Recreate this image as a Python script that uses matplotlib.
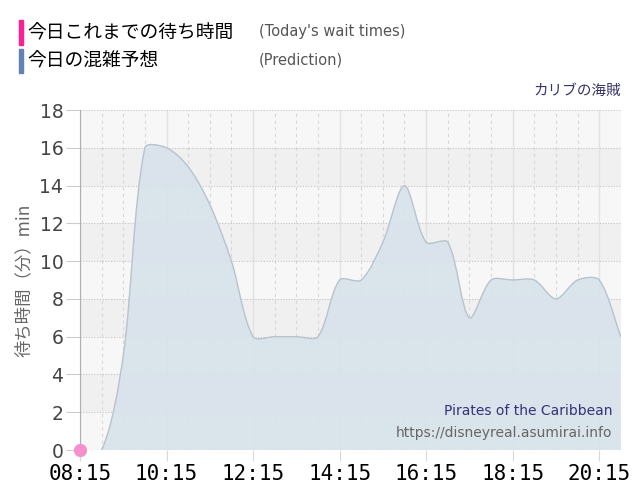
import matplotlib
matplotlib.use('Agg')
import matplotlib.pyplot as plt
from matplotlib.path import Path
from matplotlib.patches import PathPatch, Rectangle
import numpy as np

# prediction data, every 30 minutes
times = ['08:15', '08:45', '09:15', '09:45', '10:15', '10:45', '11:15', '11:45',
         '12:15', '12:45', '13:15', '13:45', '14:15', '14:45', '15:15', '15:45',
         '16:15', '16:45', '17:15', '17:45', '18:15', '18:45', '19:15', '19:45',
         '20:15', '20:45']
predicted = [0, 0, 5, 16, 16, 15, 13, 10,
             6, 6, 6, 6, 9, 9, 11, 14,
             11, 11, 7, 9, 9, 9, 8, 9,
             9, 6]
actual_times = ['08:15']
actual = [0]
tick_labels = ['08:15', '10:15', '12:15', '14:15', '16:15', '18:15', '20:15']


def to_min(t):
    h, m = t.split(':')
    return int(h) * 60 + int(m)


def spline_path(ax, x, y, base=None, t=0.3):
    # tension spline worked out in pixel space, then mapped back to data
    pts = ax.transData.transform(np.column_stack([x, y]))
    n = len(pts)
    lc = pts.copy()
    rc = pts.copy()
    for i in range(n):
        prev = pts[i - 1] if i > 0 else pts[i]
        nxt = pts[i + 1] if i < n - 1 else pts[i]
        d01 = np.hypot(*(pts[i] - prev))
        d12 = np.hypot(*(nxt - pts[i]))
        tot = d01 + d12
        s01 = d01 / tot if tot else 0
        s12 = d12 / tot if tot else 0
        lc[i] = pts[i] - t * s01 * (nxt - prev)
        rc[i] = pts[i] + t * s12 * (nxt - prev)
    inv = ax.transData.inverted()
    lc, rc = inv.transform(lc), inv.transform(rc)
    verts, codes = [], []
    if base is not None:
        verts += [(x[0], base), (x[0], y[0])]
        codes += [Path.MOVETO, Path.LINETO]
    else:
        verts.append((x[0], y[0])); codes.append(Path.MOVETO)
    for i in range(1, n):
        verts += [tuple(rc[i - 1]), tuple(lc[i]), (x[i], y[i])]
        codes += [Path.CURVE4] * 3
    if base is not None:
        verts += [(x[-1], base), (x[0], base)]
        codes += [Path.LINETO, Path.CLOSEPOLY]
    return Path(verts, codes)


x = np.array([to_min(t) for t in times], dtype=float)
y = np.array(predicted, dtype=float)

fig = plt.figure(figsize=(6.4, 5), dpi=100)
ax = fig.add_axes([0.125, 0.1, 0.845, 0.68])
ax.set_xlim(x[0], x[-1])
ax.set_ylim(0, 18)

# alternating bands
for lo in range(0, 18, 2):
    ax.axhspan(lo, lo + 2, color='#f7f7f7' if (lo // 2) % 2 == 0 else '#f0f0f0', zorder=0, lw=0)

# grid
x0, x1 = int(x[0]), int(x[-1])
for v in range(x0, x1 + 1, 30):
    if (v - x0) % 120 == 0:
        ax.axvline(v, color='#e2e2e2', lw=1, zorder=1)
    else:
        ax.axvline(v, color='#d8d8d8', lw=0.8, ls=(0, (3, 3)), zorder=1)
for h in range(0, 19, 2):
    ax.axhline(h, color='#c4c4c4', lw=0.8, ls=(0, (1, 1.5)), zorder=1)

ax.add_patch(PathPatch(spline_path(ax, x, y, base=0), facecolor='#d9e3eb',
                       edgecolor='none', alpha=0.95, zorder=2))
ax.add_patch(PathPatch(spline_path(ax, x, y), facecolor='none', edgecolor='#b7c3cd',
                       lw=1, zorder=3))

ax.plot([to_min(t) for t in actual_times], actual, 'o', color='#f590cc',
        markersize=8.5, clip_on=False, zorder=5)

ax.set_yticks(range(0, 19, 2))
ax.set_xticks([to_min(t) for t in tick_labels])
ax.set_xticklabels(tick_labels, family='DejaVu Sans Mono', fontsize=15, color='black')
ax.tick_params(axis='x', length=8, color='#d8d8d8', pad=2)
ax.tick_params(axis='y', length=10, color='#cccccc', labelsize=13.5, labelcolor='#444444', pad=2)

for s in ['top', 'right', 'bottom']:
    ax.spines[s].set_visible(False)
ax.spines['left'].set_color('#aab0b8')

ax.set_ylabel('待ち時間（分）min', family=['Noto Sans CJK JP', 'DejaVu Sans'],
              fontsize=12.5, color='#666666', labelpad=5)

ax.text(0.985, 0.115, 'Pirates of the Caribbean', transform=ax.transAxes,
        ha='right', va='center', fontsize=10, color='#333377')
ax.text(0.985, 0.05, 'https://disneyreal.asumirai.info', transform=ax.transAxes,
        ha='right', va='center', fontsize=10, color='#666666')

# header legend
fig.patches.append(Rectangle((0.0297, 0.91), 0.0065, 0.05, transform=fig.transFigure,
                             color='#ff2090', figure=fig))
fig.patches.append(Rectangle((0.0297, 0.854), 0.0065, 0.048, transform=fig.transFigure,
                             color='#6282b2', figure=fig))
fig.text(0.042, 0.935, '今日これまでの待ち時間', family='Noto Sans CJK JP',
         fontsize=13.5, va='center', color='black')
fig.text(0.042, 0.878, '今日の混雑予想', family='Noto Sans CJK JP',
         fontsize=13.5, va='center', color='black')
fig.text(0.405, 0.937, "(Today's wait times)", fontsize=10.5, va='center', color='#555555')
fig.text(0.405, 0.88, '(Prediction)', fontsize=10.5, va='center', color='#555555')
fig.text(0.970, 0.818, 'カリブの海賊', family='Noto Sans CJK JP', fontsize=10.5,
         ha='right', va='center', color='#333366')

fig.savefig('out.png', dpi=100, facecolor='white')
